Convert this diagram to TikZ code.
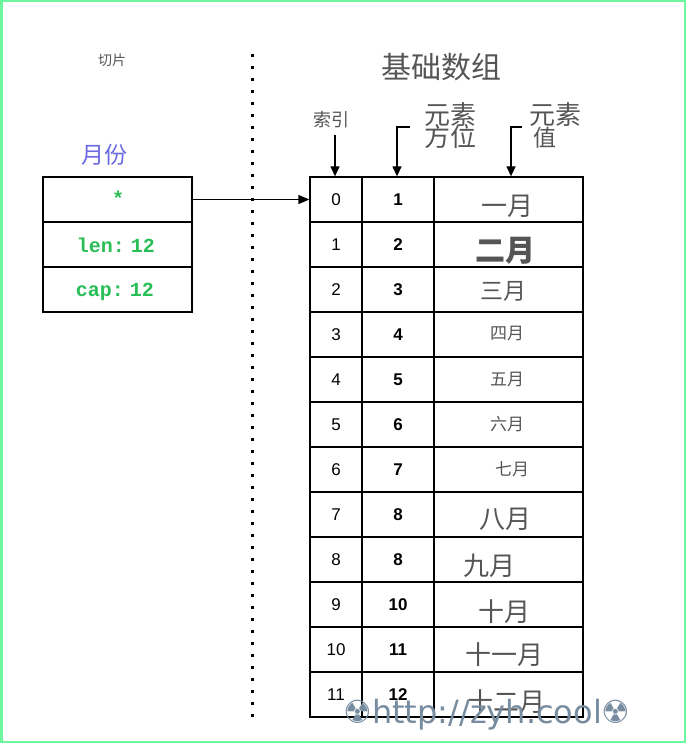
\documentclass[tikz,border=0pt]{standalone}
\usepackage{fontspec}
\setmainfont{Liberation Sans}
\newfontfamily\cjk{Noto Sans CJK SC}
\newfontfamily\monof{Liberation Mono}
\newfontfamily\dvs{DejaVu Sans}
\usetikzlibrary{arrows.meta}
\definecolor{frameg}{RGB}{110,245,160}
\definecolor{cjkgrey}{RGB}{85,85,85}
\definecolor{monthblue}{RGB}{105,105,225}
\definecolor{codegreen}{RGB}{40,190,85}
\definecolor{wmark}{RGB}{120,140,160}
\newcommand{\fs}[1]{\fontsize{#1}{#1}\selectfont}
\tikzset{
  cell/.style={draw=black, line width=1.3pt, inner sep=0pt, minimum height=45pt},
  colA/.style={cell, minimum width=52pt},
  colB/.style={cell, minimum width=72pt},
  colC/.style={cell, minimum width=149pt},
  slicecell/.style={cell, minimum width=149pt},
  numA/.style={font=\fs{17}},
  numB/.style={font=\fs{17}\bfseries},
  monthtxt/.style={text=cjkgrey, inner sep=0pt},
  lbl/.style={text=cjkgrey, inner sep=0pt},
  code/.style={text=codegreen, font=\monof\bfseries\fs{20}, inner sep=0pt},
  ptr/.style={line width=1.3pt, -{Triangle[length=11pt,width=9pt]}},
  hdrarrow/.style={line width=1.3pt, -{Triangle[length=10pt,width=9pt]}}
}
\begin{document}
\begin{tikzpicture}[x=1pt,y=-1pt]
\useasboundingbox (0,0) rectangle (686,743);
\draw[frameg, line width=2.5pt] (1.25,1.25) rectangle (684.75,741.75);

% titles
\node[lbl, font=\cjk\fs{14}] (tslice) at (112,60) {切片};
\node[lbl, font=\cjk\fs{30}] (tarray) at (441,67) {基础数组};
\node[text=monthblue, inner sep=0pt, font=\cjk\fs{23}] (tmonth) at (104,155) {月份};

% dotted separator
\coordinate (dtop) at (252,54);
\coordinate (dbot) at (252,718);
\draw[line width=3pt, dash pattern=on 3pt off 9pt] (dtop) -- (dbot);

% slice struct
\node[slicecell] (s0) at (117.5,199.5) {};
\node[slicecell] (s1) at (117.5,244.5) {};
\node[slicecell] (s2) at (117.5,289.5) {};
\node[code] (star) at (118,198) {*};
\node[code] (len) at (116,245) {len:\hspace{0.3em}12};
\node[code] (cap) at (115,292) {cap:\hspace{0.3em}12};

% array table
\foreach \i/\b in {0/1,1/2,2/3,3/4,4/5,5/6,6/7,7/8,8/8,9/10,10/11,11/12}{
  \node[colA, numA] (a\i) at (336,199.5+45*\i) {\i};
  \node[colB, numB] (b\i) at (398,199.5+45*\i) {\b};
  \node[colC] (c\i) at (508.5,199.5+45*\i) {};
}

% month values
\node[monthtxt, font=\cjk\fs{26}] (m1) at (507,206) {一月};
\node[monthtxt, font=\cjk\fs{30}\bfseries] (m2) at (505,251) {二月};
\node[monthtxt, font=\cjk\fs{23}] (m3) at (503,291) {三月};
\node[monthtxt, font=\cjk\fs{17}] (m4) at (507,333) {四月};
\node[monthtxt, font=\cjk\fs{17}] (m5) at (507,379) {五月};
\node[monthtxt, font=\cjk\fs{17}] (m6) at (507,424) {六月};
\node[monthtxt, font=\cjk\fs{17}] (m7) at (512,469) {七月};
\node[monthtxt, font=\cjk\fs{26}] (m8) at (505,519) {八月};
\node[monthtxt, font=\cjk\fs{26}] (m9) at (489,566) {九月};
\node[monthtxt, font=\cjk\fs{26}] (m10) at (504,612) {十月};
\node[monthtxt, font=\cjk\fs{26}] (m11) at (504,655) {十一月};
\node[monthtxt, font=\cjk\fs{26}] (m12) at (506,702) {十二月};

% header labels
\node[lbl, font=\cjk\fs{18}] (hidx) at (331,120) {索引};
\node[lbl, font=\cjk\fs{26}] (hpos1) at (450,115) {元素};
\node[lbl, font=\cjk\fs{26}] (hpos2) at (450,137) {方位};
\node[lbl, font=\cjk\fs{26}] (hval1) at (555,115) {元素};
\node[lbl, font=\cjk\fs{23}] (hval2) at (545,138) {值};

% header arrows
\coordinate (ia) at (335,135);
\draw[hdrarrow] (ia) -- (ia |- a0.north);
\coordinate (pa) at (410,127);
\coordinate (pb) at (397,127);
\draw[hdrarrow] (pa) -- (pb) -- (pb |- b0.north);
\coordinate (va) at (522,127);
\coordinate (vb) at (511,127);
\draw[hdrarrow] (va) -- (vb) -- (vb |- c0.north);

% pointer
\draw[ptr] (s0.east) -- (a0.west);

% watermark
\node[text=wmark, font=\dvs\fs{32}, inner sep=0pt, anchor=base] (wm) at (487,723) {☢http://zyh.cool☢};
\end{tikzpicture}
\end{document}
